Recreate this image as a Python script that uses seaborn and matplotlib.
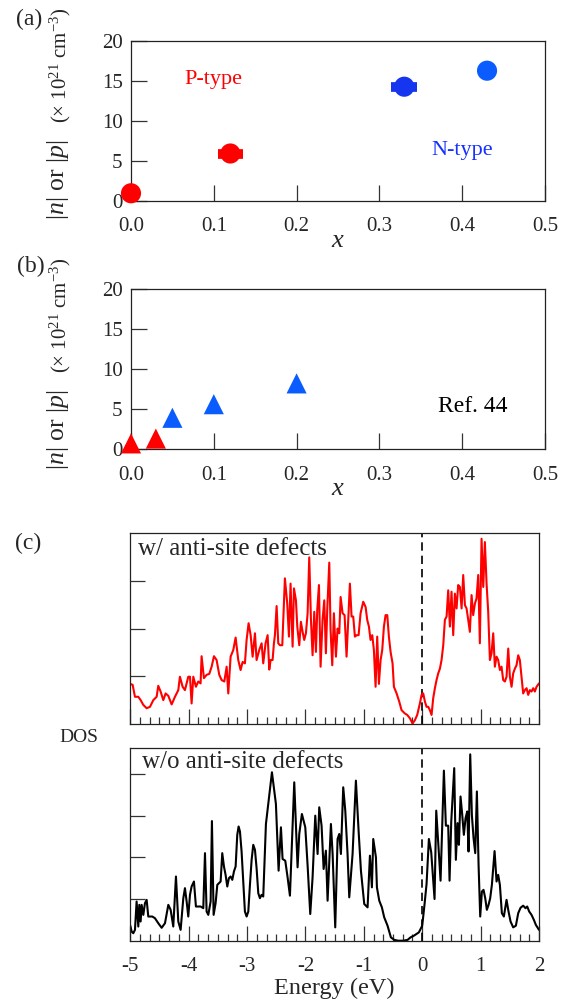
import numpy as np
import pandas as pd
import matplotlib
matplotlib.use("Agg")
import matplotlib.pyplot as plt
import seaborn as sns
from matplotlib.ticker import MultipleLocator

# (a) carrier density, this work
x_a = [0.0, 0.12, 0.33, 0.43]
n_a = [0.93, 5.9, 14.25, 16.25]
xerr_a = [0.0, 0.015, 0.016, 0.0]
grp_a = ["p0", "p1", "n0", "n1"]

# (b) Ref. 44
x_b = [0.0, 0.03, 0.05, 0.10, 0.20]
n_b = [0.7, 1.3, 3.9, 5.6, 8.2]
grp_b = ["p", "p", "n", "n", "n"]

# (c) DOS with anti-site defects
top_E = [-5.000, -4.960, -4.920, -4.863, -4.823, -4.777, -4.720, -4.663, -4.606, -4.549,
         -4.521, -4.481, -4.435, -4.395, -4.349, -4.292, -4.235, -4.178, -4.150, -4.104,
         -4.064, -4.007, -3.978, -3.950, -3.921, -3.876, -3.836, -3.796, -3.779, -3.739,
         -3.693, -3.647, -3.607, -3.567, -3.522, -3.476, -3.436, -3.390, -3.350, -3.322,
         -3.282, -3.236, -3.196, -3.151, -3.111, -3.076, -3.037, -3.008, -2.974, -2.939,
         -2.905, -2.865, -2.837, -2.791, -2.751, -2.723, -2.683, -2.648, -2.620, -2.597,
         -2.563, -2.540, -2.523, -2.494, -2.466, -2.437, -2.397, -2.352, -2.312, -2.283,
         -2.255, -2.220, -2.197, -2.163, -2.140, -2.106, -2.078, -2.049, -2.021, -1.992,
         -1.963, -1.935, -1.906, -1.878, -1.849, -1.821, -1.798, -1.769, -1.741, -1.707,
         -1.678, -1.650, -1.627, -1.592, -1.570, -1.541, -1.513, -1.478, -1.450, -1.421,
         -1.398, -1.364, -1.330, -1.296, -1.267, -1.239, -1.210, -1.182, -1.153, -1.124,
         -1.090, -1.056, -1.010, -0.970, -0.942, -0.913, -0.885, -0.856, -0.828, -0.799,
         -0.771, -0.742, -0.713, -0.685, -0.656, -0.628, -0.599, -0.571, -0.542, -0.508,
         -0.485, -0.439, -0.394, -0.354, -0.297, -0.257, -0.211, -0.166, -0.126, -0.086,
         -0.040, -0.011, 0.017, 0.046, 0.074, 0.103, 0.131, 0.160, 0.188, 0.217,
         0.245, 0.274, 0.303, 0.331, 0.360, 0.388, 0.417, 0.445, 0.474, 0.502,
         0.531, 0.559, 0.588, 0.616, 0.645, 0.674, 0.702, 0.731, 0.759, 0.788,
         0.816, 0.845, 0.873, 0.902, 0.930, 0.959, 0.987, 1.016, 1.045, 1.073,
         1.102, 1.130, 1.159, 1.187, 1.216, 1.244, 1.273, 1.301, 1.330, 1.358,
         1.387, 1.416, 1.444, 1.473, 1.501, 1.530, 1.558, 1.587, 1.615, 1.644,
         1.672, 1.701, 1.729, 1.758, 1.787, 1.815, 1.844, 1.872, 1.901, 1.929,
         1.958, 2.000]
top_dos = [0.84, 0.82, 0.57, 0.57, 0.50, 0.40, 0.33, 0.36, 0.50, 0.57,
           0.80, 0.68, 0.50, 0.64, 0.59, 0.41, 0.57, 0.71, 0.99, 0.78,
           0.71, 0.99, 0.99, 0.43, 0.99, 0.78, 0.89, 0.85, 1.42, 0.96,
           1.03, 1.05, 1.20, 1.42, 1.34, 1.03, 0.92, 0.89, 1.20, 0.64,
           1.41, 1.55, 1.81, 1.34, 1.13, 1.30, 1.27, 1.76, 2.11, 1.86,
           1.41, 1.90, 1.34, 1.55, 1.69, 1.27, 1.69, 1.86, 1.14, 1.34,
           1.34, 1.69, 1.86, 2.47, 1.69, 1.65, 1.65, 3.05, 2.52, 1.83,
           2.94, 1.62, 2.84, 2.59, 2.04, 1.65, 2.14, 1.93, 1.76, 1.90,
           2.32, 3.49, 2.18, 1.44, 2.35, 1.51, 2.39, 2.91, 1.20, 2.18,
           2.59, 1.48, 2.39, 3.38, 1.97, 1.23, 2.32, 1.41, 2.00, 1.90,
           2.66, 2.32, 2.28, 1.41, 2.18, 2.94, 2.25, 2.25, 1.83, 1.86,
           1.86, 2.32, 2.56, 2.45, 2.18, 2.04, 1.76, 1.86, 1.55, 0.78,
           1.83, 0.84, 1.34, 1.55, 2.04, 2.28, 2.28, 1.83, 1.51, 1.27,
           0.78, 0.64, 0.47, 0.29, 0.22, 0.19, 0.12, 0.01, 0.08, 0.19,
           0.43, 0.61, 0.64, 0.47, 0.36, 0.36, 0.29, 0.19, 0.54, 0.75,
           0.92, 1.06, 1.16, 1.34, 1.65, 2.18, 2.25, 2.80, 2.04, 2.77,
           1.86, 2.73, 2.42, 2.91, 2.87, 2.42, 3.12, 2.49, 2.42, 2.18,
           1.93, 2.70, 2.28, 2.52, 2.63, 3.12, 1.69, 3.88, 2.87, 3.81,
           2.94, 2.35, 1.34, 1.48, 1.90, 1.20, 1.41, 1.34, 1.13, 1.20,
           0.92, 0.89, 0.99, 1.58, 0.99, 0.78, 1.06, 1.16, 1.23, 1.44,
           1.34, 0.99, 0.64, 0.71, 0.75, 0.61, 0.71, 0.68, 0.75, 0.68,
           0.78, 0.85]

# (c) DOS without anti-site defects
bot_E = [-5.000, -4.977, -4.949, -4.920, -4.892, -4.863, -4.846, -4.823, -4.806, -4.777,
         -4.749, -4.720, -4.692, -4.663, -4.623, -4.578, -4.521, -4.463, -4.406, -4.349,
         -4.309, -4.264, -4.218, -4.178, -4.138, -4.092, -4.064, -4.035, -4.007, -3.978,
         -3.950, -3.910, -3.876, -3.836, -3.796, -3.750, -3.721, -3.693, -3.664, -3.624,
         -3.602, -3.573, -3.539, -3.510, -3.482, -3.453, -3.425, -3.396, -3.368, -3.339,
         -3.311, -3.282, -3.253, -3.225, -3.196, -3.168, -3.145, -3.122, -3.094, -3.065,
         -3.037, -3.008, -2.979, -2.951, -2.922, -2.894, -2.865, -2.837, -2.808, -2.780,
         -2.751, -2.723, -2.677, -2.574, -2.506, -2.460, -2.420, -2.392, -2.346, -2.306,
         -2.266, -2.192, -2.135, -2.106, -2.061, -2.003, -1.963, -1.918, -1.878, -1.832,
         -1.792, -1.764, -1.724, -1.689, -1.650, -1.621, -1.564, -1.535, -1.490, -1.450,
         -1.421, -1.393, -1.353, -1.318, -1.279, -1.250, -1.193, -1.136, -1.090, -1.050,
         -0.993, -0.936, -0.896, -0.862, -0.839, -0.793, -0.776, -0.736, -0.691, -0.651,
         -0.594, -0.537, -0.479, -0.411, -0.325, -0.251, -0.200, -0.143, -0.057, 0.000,
         0.040, 0.074, 0.114, 0.154, 0.211, 0.240, 0.314, 0.371, 0.405, 0.445,
         0.468, 0.497, 0.548, 0.576, 0.605, 0.628, 0.656, 0.685, 0.713, 0.742,
         0.771, 0.793, 0.822, 0.850, 0.879, 0.908, 0.936, 0.965, 0.993, 1.022,
         1.050, 1.079, 1.107, 1.136, 1.164, 1.193, 1.239, 1.273, 1.301, 1.330,
         1.364, 1.398, 1.444, 1.478, 1.513, 1.558, 1.604, 1.644, 1.684, 1.729,
         1.769, 1.798, 1.832, 1.872, 1.912, 1.946, 2.000]
bot_dos = [0.36, 0.22, 0.18, 0.26, 0.94, 0.34, 0.86, 0.46, 0.86, 0.62,
           0.90, 0.98, 0.58, 0.58, 0.58, 0.54, 0.42, 0.31, 0.42, 0.86,
           0.74, 0.34, 1.54, 0.46, 0.26, 1.02, 1.26, 0.94, 0.58, 1.10,
           1.30, 1.42, 0.82, 0.82, 0.82, 0.78, 2.10, 0.70, 0.62, 0.94,
           2.87, 0.62, 0.90, 1.34, 1.38, 1.42, 2.10, 1.78, 1.58, 1.30,
           1.50, 1.54, 1.46, 1.66, 1.78, 2.54, 2.74, 2.62, 2.14, 1.42,
           0.70, 0.58, 0.70, 1.34, 1.94, 2.30, 2.18, 1.74, 1.14, 1.02,
           1.10, 1.06, 2.80, 4.04, 3.28, 1.68, 2.72, 1.96, 1.92, 1.52,
           1.08, 3.80, 1.76, 2.56, 3.04, 2.72, 1.80, 0.64, 1.52, 3.00,
           2.08, 3.20, 2.76, 1.72, 2.16, 0.96, 2.80, 2.08, 0.32, 2.44,
           2.56, 2.08, 3.68, 3.12, 2.08, 1.04, 2.08, 3.84, 2.64, 1.68,
           0.88, 0.80, 2.04, 1.28, 2.44, 2.00, 1.28, 0.96, 0.80, 0.56,
           0.36, 0.08, 0.02, 0.00, 0.00, 0.02, 0.08, 0.12, 0.20, 0.36,
           0.88, 1.36, 2.44, 2.12, 1.00, 3.12, 1.44, 4.08, 2.76, 2.76,
           1.44, 2.86, 4.14, 1.94, 2.82, 2.30, 3.46, 3.02, 2.54, 2.94,
           3.10, 2.14, 4.47, 3.02, 2.46, 2.10, 3.58, 1.82, 0.58, 1.18,
           1.22, 1.02, 0.74, 0.86, 1.02, 1.34, 2.15, 1.42, 1.58, 1.34,
           0.66, 0.58, 0.98, 0.70, 0.46, 0.32, 0.36, 0.66, 0.79, 0.84,
           0.78, 0.82, 0.70, 0.62, 0.50, 0.38, 0.26]

sns.set_style("ticks")
plt.rcParams["font.family"] = ["Liberation Serif", "DejaVu Serif"]
plt.rcParams["mathtext.fontset"] = "custom"
plt.rcParams["mathtext.rm"] = "Liberation Serif"
plt.rcParams["mathtext.it"] = "Liberation Serif:italic"
plt.rcParams["axes.linewidth"] = 0.9

RED = "#ff0000"
BLUE_D = "#1535ee"
BLUE = "#0a5cff"
TICKC = "#333333"

fig = plt.figure(figsize=(5.7, 10.07), dpi=100)
W, H = 570.0, 1007.0
ax_a = fig.add_axes([131 / W, 1 - 200.7 / H, 414 / W, 160 / H])
ax_b = fig.add_axes([131 / W, 1 - 449 / H, 414 / W, 160 / H])
ax_c1 = fig.add_axes([130.3 / W, 1 - 724 / H, 408.7 / W, 191 / H])
ax_c2 = fig.add_axes([130.3 / W, 1 - 940.7 / H, 408.7 / W, 193 / H])

df_a = pd.DataFrame({"x": x_a, "n": n_a, "xerr": xerr_a, "grp": grp_a})
df_b = pd.DataFrame({"x": x_b, "n": n_b, "grp": grp_b})
pal_a = {"p0": RED, "p1": RED, "n0": BLUE_D, "n1": BLUE}

# panel (a)
for _, r in df_a[df_a["xerr"] > 0].iterrows():
    ax_a.errorbar(r["x"], r["n"], xerr=r["xerr"], fmt="none",
                  ecolor=pal_a[r["grp"]], elinewidth=7, capsize=0, zorder=3)
sns.scatterplot(data=df_a, x="x", y="n", hue="grp", palette=pal_a, s=210,
                marker="o", edgecolor="none", legend=False, ax=ax_a,
                clip_on=False, zorder=4)
ax_a.text(0.10, 15.1, "P-type", color=RED, fontsize=16, ha="center", va="center")
ax_a.text(0.40, 6.3, "N-type", color="#1530ff", fontsize=16, ha="center", va="center")

# panel (b)
sns.scatterplot(data=df_b, x="x", y="n", hue="grp", palette={"p": RED, "n": BLUE},
                s=210, marker="^", edgecolor="none", legend=False, ax=ax_b,
                clip_on=False, zorder=4)
ax_b.text(0.413, 5.3, "Ref. 44", color="black", fontsize=17, ha="center", va="center")

for ax in (ax_a, ax_b):
    ax.set_xlim(0, 0.5)
    ax.set_ylim(0, 20)
    ax.set_xticks([0, 0.1, 0.2, 0.3, 0.4, 0.5])
    ax.set_xticklabels(["0.0", "0.1", "0.2", "0.3", "0.4", "0.5"])
    ax.set_yticks([0, 5, 10, 15, 20])
    ax.tick_params(direction="in", length=11.3, width=0.9, color=TICKC,
                   labelsize=15, top=False, right=False)
    ax.tick_params(axis="x", pad=12)
    ax.tick_params(axis="y", pad=6)
    ax.set_ylabel("")
    ax.set_xlabel("$x$", fontsize=19, va="center")
    ax.xaxis.set_label_coords(0.5, -0.25)
    for sp in ax.spines.values():
        sp.set_visible(True)
        sp.set_color("#222222")

# y labels of (a) and (b)
for ybot in (220, 470):
    fig.text(58 / W, 1 - ybot / H, "$|n|$ or $|p|$", rotation=90, fontsize=18.5,
             ha="center", va="bottom")
    fig.text(60 / W, 1 - (ybot - 97) / H, "(× 10$^{21}$ cm$^{-3}$)", rotation=90,
             fontsize=15, ha="center", va="bottom")

fig.text(29 / W, 1 - 19 / H, "(a)", fontsize=17, ha="center", va="center")
fig.text(31 / W, 1 - 266 / H, "(b)", fontsize=17, ha="center", va="center")
fig.text(28 / W, 1 - 543 / H, "(c)", fontsize=17, ha="center", va="center")
fig.text(79 / W, 1 - 738 / H, "DOS", fontsize=14, ha="center", va="center")

# panel (c)
df_t = pd.DataFrame({"E": top_E, "dos": top_dos})
df_o = pd.DataFrame({"E": bot_E, "dos": bot_dos})
sns.lineplot(data=df_t, x="E", y="dos", color=RED, lw=1.5, estimator=None,
             sort=False, ax=ax_c1)
sns.lineplot(data=df_o, x="E", y="dos", color="black", lw=1.5, estimator=None,
             sort=False, ax=ax_c2)

ax_c1.set_ylim(0, 4.0)
ax_c1.set_yticks([1, 2, 3])
ax_c2.set_ylim(0, 4.63)
ax_c2.set_yticks([1, 2, 3, 4])
for ax in (ax_c1, ax_c2):
    ax.set_xlim(-5, 2)
    ax.axvline(0, color="black", lw=1.2, ls=(0, (5, 3)), zorder=1)
    ax.xaxis.set_major_locator(MultipleLocator(1))
    ax.xaxis.set_minor_locator(MultipleLocator(1 / 6))
    ax.tick_params(which="major", direction="in", length=11, width=0.9, color=TICKC,
                   labelsize=15, pad=12, top=False, right=False)
    ax.tick_params(which="minor", direction="in", length=5.3, width=0.9, color=TICKC,
                   top=False, right=False, left=False)
    ax.set_yticklabels([])
    ax.set_ylabel("")
    ax.set_xlabel("")
    for sp in ax.spines.values():
        sp.set_visible(True)
        sp.set_color("#222222")

ax_c1.set_xticklabels([])
ax_c2.set_xticks([-5, -4, -3, -2, -1, 0, 1, 2])
ax_c2.set_xticklabels(["-5", "-4", "-3", "-2", "-1", "0", "1", "2"])
ax_c2.set_xlabel("Energy (eV)", fontsize=17.5, labelpad=1)

ax_c1.text(0.02, 0.915, "w/ anti-site defects", transform=ax_c1.transAxes,
           fontsize=18, ha="left", va="center")
ax_c2.text(0.028, 0.927, "w/o anti-site defects", transform=ax_c2.transAxes,
           fontsize=18, ha="left", va="center")

fig.savefig("out.png", dpi=100)
